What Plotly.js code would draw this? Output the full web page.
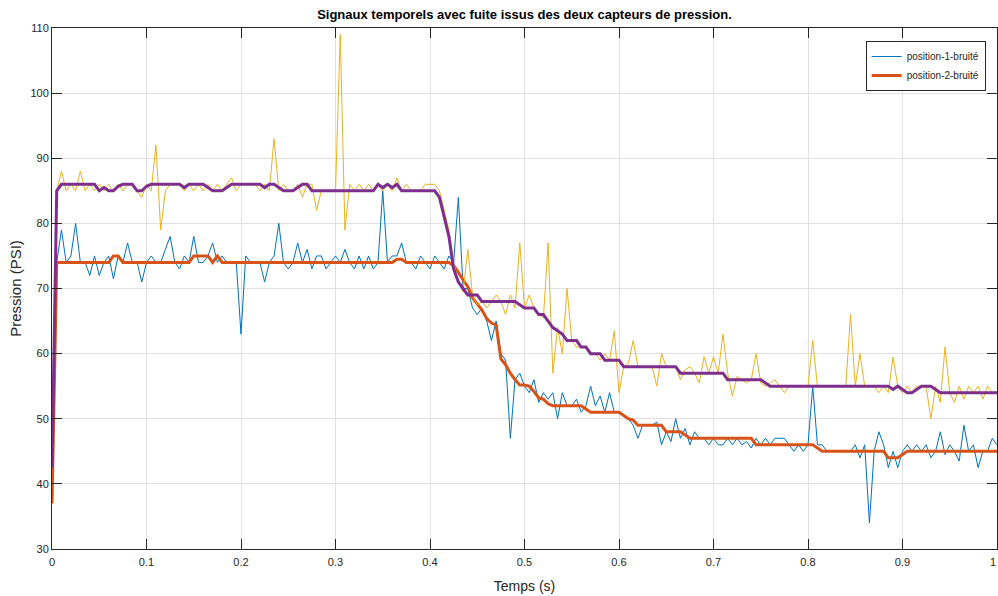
<!DOCTYPE html>
<html>
<head>
<meta charset="utf-8">
<script src="https://cdn.plot.ly/plotly-3.0.1.min.js"></script>
<style>
  html, body { margin: 0; padding: 0; background: #ffffff; }
  #chart { width: 998px; height: 596px; }
</style>
</head>
<body>
<div id="chart"></div>
<script>
// Sampling step of the recorded signals (s)
const dt = 0.005;

// Raw noisy signal, sensor 1 (blue)
const position1Raw = [
  40,74,79,74,75,80,74,74,72,75,
  72,74,75,71.5,75,74,77,74,74,71,
  74,75,74,74,76,78,74,73,75,74,
  78,74,74,75,77,74,75,74,74,74,
  63,75,74,74,74,71,74,75,80,74,
  73,74,77,74,76,73,75,75,73,74,
  75,74,76,74,73,75,73,75,73,74,
  85,74,75,75,77,74,74,73,75,74,
  73,75,74,73,75,74,84,70,70,67,
  66,67,65,62,65,60,59,47,56,57,
  55,54,56,52.5,54,53,54,50,54,52,
  52,53,51,52,55,52,53.5,51,54,51,
  51,50.5,50,49,47,49,49,49,49.5,46,
  48,46.5,50,47,48.5,46,48,47,47,46,
  47,46,46,47,46,47,46,46.5,45.5,47,
  46,47,46,47,47,47,46,45,46,45,
  46,55,46,46,45,45,45,45,45,45,
  46,44,46,34,45,48,46,42.5,45,42.5,
  45,46,45,46,45,46,44,45,48,44.5,
  46,45,43.5,49,45,46,42.5,45,45,47,
  46
];

// Filtered signal, sensor 1 (orange, thick)
const position1Filt = [
  37,74,74,74,74,74,74,74,74,74,
  74,74,74,75,75,74,74,74,74,74,
  74,74,74,74,74,74,74,74,74,74,
  75,75,75,75,74,75,74,74,74,74,
  74,74,74,74,74,74,74,74,74,74,
  74,74,74,74,74,74,74,74,74,74,
  74,74,74,74,74,74,74,74,74,74,
  74,74,74,74.5,74.5,74,74,74,74,74,
  74,74,74,74,74,73.5,72.5,71.3,70.3,68.6,
  67.7,66.7,65.4,64.7,64.4,59.2,58.3,57,56,55.2,
  55.2,55,54.2,53.2,53,52.3,52,52,52,52,
  52,52,52,51.5,51,51,51,51,51,51,
  51,50.5,50,49.8,49,49,49,49,49,49,
  48,48,48,48,47.5,47,47,47,47,47,
  47,47,47,47,47,47,47,47,47,46,
  46,46,46,46,46,46,46,46,46,46,
  46,46,45.5,45,45,45,45,45,45,45,
  45,45,45,45,45,45,45,44,44,44,
  44.5,45,45,45,45,45,45,45,45,45,
  45,45,45,45,45,45,45,45,45,45,
  45
];

// Raw noisy signal, sensor 2 (yellow)
const position2Raw = [
  45,85,88,85,86,85,88,85,86,85,
  86,85,86,85,86,85,86,86,85,84,
  86,85,92,79,85,86,86,86,85,86,
  85,86,85,86,85,86,85,86,87,85,
  86,86,86,86,85,86,85,93,85,86,
  85,85,86,84,86,86,82,85,85,85,
  85,109,79,86,85,86,85,86,85,86,
  85,86,85,87,85,86,85,85,85,86,
  86,86,85,82,79,74,71,69.5,76,69,
  67.5,68,67,68,69,68,66,69,67,77,
  67,69,67,66,65.5,77,57,64,60,70,
  62,61,61,61,60,60,59,60,59,63.5,
  54,58,58.5,62,58,58,58,58,55,60,
  58,58,58,56,57.5,58,57,55.5,59.5,57,
  59.5,57,63,57,53.5,56.5,56,55.5,56,60,
  55.5,55,55.5,56,55,54,55,55,55,55,
  55,62,55,55,55,55,55,55,55,66,
  55,60,55,55,55,54,55,54,59.5,55,
  54,55,54,55,55,55,50,55,52.5,61,
  54,52.5,55,53,55,54,55,53,55,54,
  54
];

// Filtered signal, sensor 2 (purple, thick)
const position2Filt = [
  42.5,85,86,86,86,86,86,86,86,86,
  85,85.5,85,85,85.7,86,86,86,85,85,
  85.7,86,86,86,86,86,86,86,85.5,86,
  86,86,86,85.5,85,85,85,85.5,86,86,
  86,86,86,86,86,85.5,86,86,85.5,85,
  85,85,85.5,86,86,85,85,85,85,85,
  85,85,85,85,85,85,85,85,85,86,
  85.5,86,85.5,86,85,85,85,85,85,85,
  85,85,84,81,78,73,71,70,69,69,
  69,68,68,68,68,68,68,68,68,67.5,
  67,67,67,66,66,65,64,63.5,63,62,
  62,62,61,61,60,60,60,59,59,59,
  59,58,58,58,58,58,58,58,58,58,
  58,58,58,57,57,57,57,57,57,57,
  57,57,57,56,56,56,56,56,56,56,
  56,55.5,55,55,55,55,55,55,55,55,
  55,55,55,55,55,55,55,55,55,55,
  55,55,55,55,55,55,55,55,54.5,55,
  54.5,54,54,54.5,55,55,55,54.5,54,54,
  54,54,54,54,54,54,54,54,54,54,
  54
];

// Axis ticks (the last x label is drawn right-aligned so it stays inside the page)
const xTickVals = [0, 0.1, 0.2, 0.3, 0.4, 0.5, 0.6, 0.7, 0.8, 0.9, 1];
const xTickText = ['0', '0.1', '0.2', '0.3', '0.4', '0.5', '0.6', '0.7', '0.8', '0.9', ''];
const xLastTickText = '1';
const yTickVals = [30, 40, 50, 60, 70, 80, 90, 100, 110];
const yTickText = ['30', '40', '50', '60', '70', '80', '90', '100', '110'];

// Sample times (sampling grid)
const temps = position1Raw.map((_, i) => +(i * dt).toFixed(4));

const FONT = 'Liberation Sans, Arial, Helvetica, sans-serif';
const AX = '#262626';

const traces = [
  { x: temps, y: position1Raw, type: 'scatter', mode: 'lines', name: 'position-1-bruité',
    line: { color: '#0072BD', width: 1 } },
  { x: temps, y: position1Filt, type: 'scatter', mode: 'lines', name: 'position-2-bruité',
    line: { color: '#D95319', width: 3 } },
  { x: temps, y: position2Raw, type: 'scatter', mode: 'lines', name: 'capteur-2-brut',
    line: { color: '#EDB120', width: 1 }, showlegend: false },
  { x: temps, y: position2Filt, type: 'scatter', mode: 'lines', name: 'capteur-2-filtré',
    line: { color: '#7E2F8E', width: 3 }, showlegend: false }
];

const axisCommon = {
  ticks: 'inside', ticklen: 10, tickwidth: 1, tickcolor: AX,
  showline: true, linecolor: AX, linewidth: 1, mirror: 'ticks',
  showgrid: true, gridcolor: '#e0e0e0', gridwidth: 1,
  zeroline: false, fixedrange: true,
  tickfont: { family: FONT, size: 11, color: AX }
};

const layout = {
  width: 998, height: 596,
  margin: { l: 52, r: 1, t: 28, b: 47, pad: 0 },
  paper_bgcolor: '#ffffff', plot_bgcolor: '#ffffff',
  font: { family: FONT, color: AX, size: 11 },
  showlegend: true,
  title: {
    text: '<b>Signaux temporels avec fuite issus des deux capteurs de pression.</b>',
    font: { family: FONT, size: 13, color: '#000000' },
    xref: 'paper', x: 0.5, xanchor: 'center',
    yref: 'container', y: 1 - 14 / 596, yanchor: 'middle'
  },
  xaxis: Object.assign({}, axisCommon, {
    range: [0, 1], tickmode: 'array', tickvals: xTickVals, ticktext: xTickText,
    ticklabelstandoff: 3,
    title: { text: 'Temps (s)', font: { family: FONT, size: 14, color: AX }, standoff: 13 }
  }),
  yaxis: Object.assign({}, axisCommon, {
    range: [30, 110], tickmode: 'array', tickvals: yTickVals, ticktext: yTickText,
    title: { text: 'Pression (PSI)', font: { family: FONT, size: 15, color: AX }, standoff: 5 }
  }),
  annotations: [{
    text: xLastTickText, xref: 'x', x: xTickVals[xTickVals.length - 1],
    yref: 'paper', y: 0, xanchor: 'right', yanchor: 'middle', yshift: -13, xshift: 1,
    showarrow: false, font: { family: FONT, size: 11, color: AX }
  }],
  legend: {
    x: 0.988, xanchor: 'right', y: 0.975, yanchor: 'top',
    bgcolor: '#ffffff', bordercolor: AX, borderwidth: 1,
    font: { family: FONT, size: 10, color: AX },
    tracegroupgap: 0, itemwidth: 30
  }
};

Plotly.newPlot('chart', traces, layout, { staticPlot: true, displayModeBar: false });
</script>
</body>
</html>
